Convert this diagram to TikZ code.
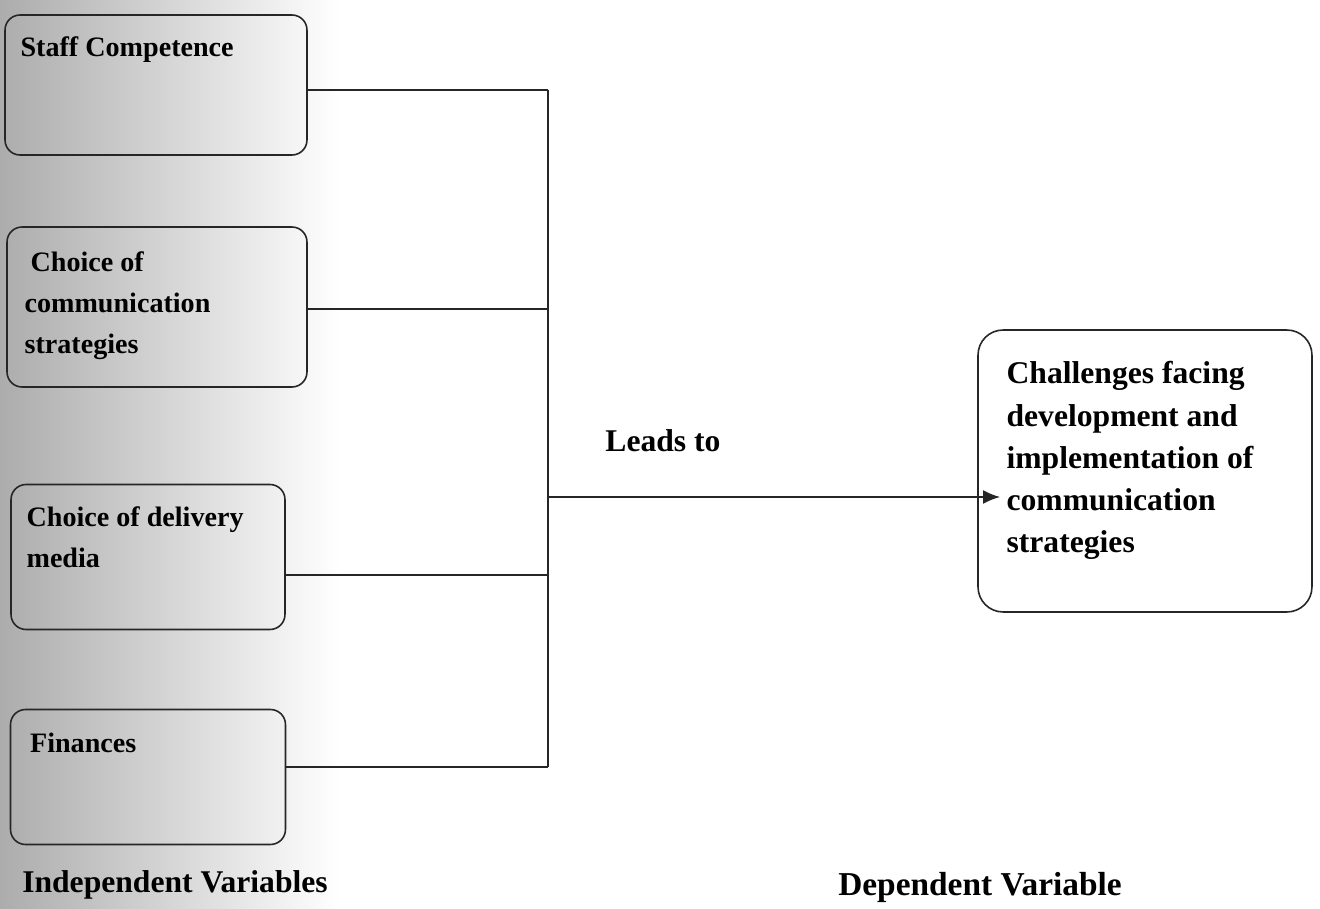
\documentclass[tikz,border=0pt]{standalone}
\usepackage{fontspec}
\setmainfont{Liberation Serif}
\usepackage{tikz}
\usetikzlibrary{arrows.meta, positioning}

\tikzset{
    varbox/.style={draw=black!85, line width=0.9pt, rounded corners=0.3cm, inner sep=0pt},
    depbox/.style={draw=black!85, line width=0.9pt, rounded corners=0.5cm, inner sep=0pt},
    boxtext/.style={inner sep=0pt, anchor=north west, align=left,
        font=\bfseries\fontsize{16}{23.3}\selectfont},
    bigtext/.style={inner sep=0pt, align=left,
        font=\bfseries\fontsize{18}{24}\selectfont},
    link/.style={draw=black!85, line width=0.9pt}
}

\begin{document}
\begin{tikzpicture}[x=0.02cm, y=-0.02cm]
    % Define coordinates
    \def\bus{548} % x of the collecting line

    % Page and scan shadow
    \useasboundingbox (0,0) rectangle (1320,909);
    \fill[white] (0,0) rectangle (1320,909);
    \shade[left color=gray!65, right color=white] (0,0) rectangle (340,909);

    % Independent variables
    \node[varbox, minimum width=6.04cm, minimum height=2.8cm] (staff) at (156,85) {};
    \node[varbox, minimum width=6.0cm, minimum height=3.2cm] (strat) at (157,307) {};
    \node[varbox, minimum width=5.48cm, minimum height=2.9cm] (media) at (148,557) {};
    \node[varbox, minimum width=5.5cm, minimum height=2.7cm] (money) at (148,777) {};

    \node[boxtext, below right=0.44cm and 0.32cm of staff.north west] (stafftxt) {Staff Competence};
    \node[boxtext, below right=0.5cm and 0.36cm of strat.north west] (strattxt)
        {\hspace{0.12cm}Choice of\\communication\\strategies};
    \node[boxtext, below right=0.46cm and 0.32cm of media.north west] (mediatxt) {Choice of delivery\\media};
    \node[boxtext, below right=0.48cm and 0.4cm of money.north west] (moneytxt) {Finances};

    % Dependent variable
    \node[depbox, minimum width=6.68cm, minimum height=5.64cm] (chall) at (1145,471) {};
    \node[bigtext, anchor=north west, below right=0.64cm and 0.58cm of chall.north west] (challtxt)
        {Challenges facing\\development and\\implementation of\\communication\\strategies};

    % Junctions on the collecting line
    \coordinate (j1) at (\bus,90);
    \coordinate (j2) at (\bus,309);
    \coordinate (j3) at (\bus,575);
    \coordinate (j4) at (\bus,767);
    \coordinate (jm) at (\bus,497);
    \coordinate (tip) at (1000,497);

    % Connectors
    \draw[link] (staff.east |- j1) -- (j1);
    \draw[link] (strat.east |- j2) -- (j2);
    \draw[link] (media.east |- j3) -- (j3);
    \draw[link] (money.east |- j4) -- (j4);
    \draw[link] (j1) -- (j4);
    \draw[link, -{Latex[length=0.34cm, width=0.28cm]}] (jm) -- (tip);

    \node[bigtext] (leads) at (663,441) {Leads to};

    % Bottom captions
    \node[bigtext] (indep) at (175,885) {Independent Variables};
    \node[bigtext, font=\bfseries\fontsize{19}{24}\selectfont] (dep) at (980,887) {Dependent Variable};

\end{tikzpicture}
\end{document}
